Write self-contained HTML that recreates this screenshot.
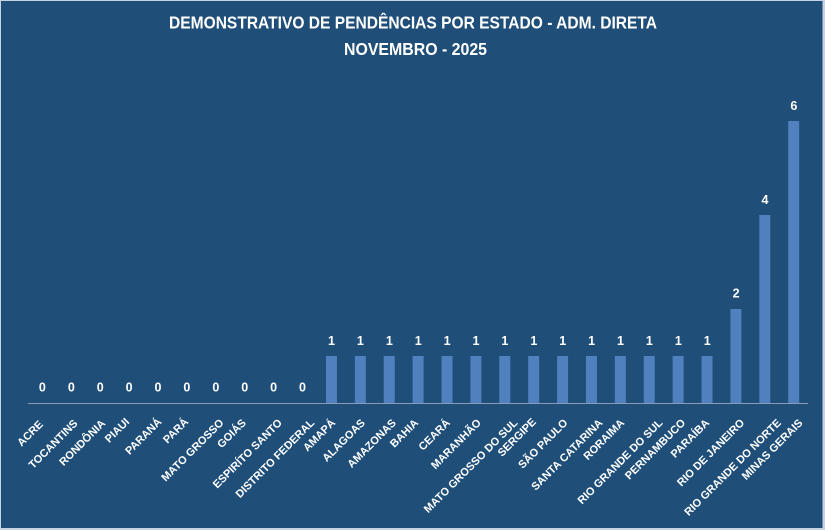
<!DOCTYPE html>
<html>
<head>
<meta charset="utf-8">
<style>
html,body{margin:0;padding:0;background:#c6d3e2;}
svg{display:block;}
text{font-family:"Liberation Sans",Arial,sans-serif;font-weight:bold;fill:#ffffff;}
</style>
</head>
<body>
<svg width="825" height="530" viewBox="0 0 825 530" xmlns="http://www.w3.org/2000/svg">
<rect x="0" y="0" width="825" height="530" fill="#c6d3e2"/>
<rect x="1" y="1" width="821.5" height="527" fill="#1f4e79"/>

<text x="413" y="28.3" font-size="17.5" text-anchor="middle" textLength="488" lengthAdjust="spacingAndGlyphs">DEMONSTRATIVO DE PENDÊNCIAS POR ESTADO - ADM. DIRETA</text>
<text x="415.5" y="55" font-size="17.5" text-anchor="middle" textLength="143" lengthAdjust="spacingAndGlyphs">NOVEMBRO - 2025</text>

<g fill="#5080be">
<rect x="325.95" y="356" width="11" height="47"/>
<rect x="354.84" y="356" width="11" height="47"/>
<rect x="383.73" y="356" width="11" height="47"/>
<rect x="412.62" y="356" width="11" height="47"/>
<rect x="441.51" y="356" width="11" height="47"/>
<rect x="470.40" y="356" width="11" height="47"/>
<rect x="499.29" y="356" width="11" height="47"/>
<rect x="528.18" y="356" width="11" height="47"/>
<rect x="557.07" y="356" width="11" height="47"/>
<rect x="585.96" y="356" width="11" height="47"/>
<rect x="614.85" y="356" width="11" height="47"/>
<rect x="643.74" y="356" width="11" height="47"/>
<rect x="672.63" y="356" width="11" height="47"/>
<rect x="701.52" y="356" width="11" height="47"/>
<rect x="730.41" y="309" width="11" height="94"/>
<rect x="759.30" y="215" width="11" height="188"/>
<rect x="788.19" y="121" width="11" height="282"/>
</g>

<line x1="28" y1="403.5" x2="808" y2="403.5" stroke="#8a9cb5" stroke-width="1"/>

<g font-size="12.5" text-anchor="middle">
<text x="42.4" y="391.7">0</text>
<text x="71.3" y="391.7">0</text>
<text x="100.2" y="391.7">0</text>
<text x="129.1" y="391.7">0</text>
<text x="158.0" y="391.7">0</text>
<text x="186.9" y="391.7">0</text>
<text x="215.8" y="391.7">0</text>
<text x="244.7" y="391.7">0</text>
<text x="273.6" y="391.7">0</text>
<text x="302.5" y="391.7">0</text>
<text x="331.5" y="345">1</text>
<text x="360.4" y="345">1</text>
<text x="389.3" y="345">1</text>
<text x="418.2" y="345">1</text>
<text x="447.1" y="345">1</text>
<text x="476.0" y="345">1</text>
<text x="504.9" y="345">1</text>
<text x="533.8" y="345">1</text>
<text x="562.7" y="345">1</text>
<text x="591.6" y="345">1</text>
<text x="620.5" y="345">1</text>
<text x="649.4" y="345">1</text>
<text x="678.3" y="345">1</text>
<text x="707.2" y="345">1</text>
<text x="736.1" y="297.5">2</text>
<text x="765.0" y="204">4</text>
<text x="793.9" y="110">6</text>
</g>

<g font-size="11" text-anchor="end">
<text transform="translate(43.7,425) rotate(-45)">ACRE</text>
<text transform="translate(78.3,424) rotate(-45)">TOCANTINS</text>
<text transform="translate(106,424) rotate(-45)">RONDÔNIA</text>
<text transform="translate(130,422.5) rotate(-45)">PIAUI</text>
<text transform="translate(162.3,422.5) rotate(-45)">PARANÁ</text>
<text transform="translate(189,422.5) rotate(-45)">PARÁ</text>
<text transform="translate(224.3,423.5) rotate(-45)">MATO GROSSO</text>
<text transform="translate(246.7,423.5) rotate(-45)">GOIÁS</text>
<text transform="translate(282.7,423.5) rotate(-45)">ESPIRÍTO SANTO</text>
<text transform="translate(315,423.5) rotate(-45)">DISTRITO FEDERAL</text>
<text transform="translate(336,423.5) rotate(-45)">AMAPÁ</text>
<text transform="translate(365.7,423.5) rotate(-45)">ALAGOAS</text>
<text transform="translate(396.7,423.5) rotate(-45)">AMAZONAS</text>
<text transform="translate(419,423.5) rotate(-45)">BAHIA</text>
<text transform="translate(450.7,423.5) rotate(-45)">CEARÁ</text>
<text transform="translate(481.7,423.5) rotate(-45)">MARANHÃO</text>
<text transform="translate(518.3,423.5) rotate(-45)">MATO GROSSO DO SUL</text>
<text transform="translate(536.7,422.5) rotate(-45)">SERGIPE</text>
<text transform="translate(568.3,423.5) rotate(-45)">SÃO PAULO</text>
<text transform="translate(603.3,423.5) rotate(-45)">SANTA CATARINA</text>
<text transform="translate(625,423.5) rotate(-45)">RORAIMA</text>
<text transform="translate(663.3,423.5) rotate(-45)">RIO GRANDE DO SUL</text>
<text transform="translate(686,423.5) rotate(-45)">PERNAMBUCO</text>
<text transform="translate(710,423.5) rotate(-45)">PARAÍBA</text>
<text transform="translate(745,423.5) rotate(-45)">RIO DE JANEIRO</text>
<text transform="translate(781.7,423.5) rotate(-45)">RIO GRANDE DO NORTE</text>
<text transform="translate(803.3,423.5) rotate(-45)">MINAS GERAIS</text>
</g>
</svg>
</body>
</html>
